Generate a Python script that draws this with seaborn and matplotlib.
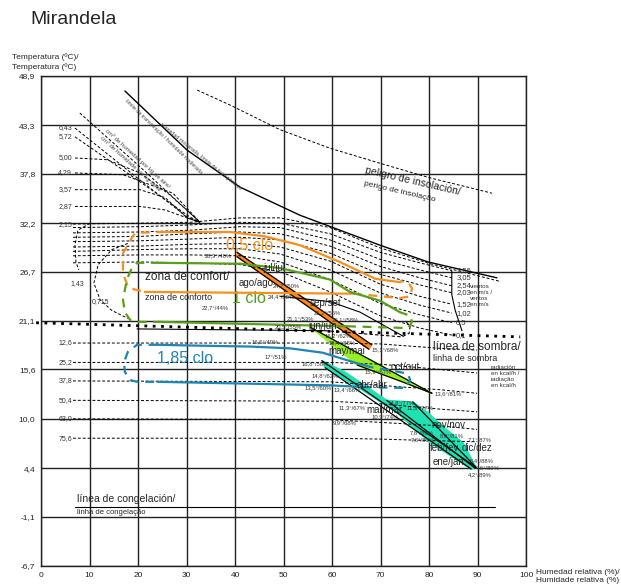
import seaborn as sns
import matplotlib.pyplot as plt

sns.set_theme(style="white")
plt.rcParams["font.family"] = ["Liberation Sans", "DejaVu Sans"]

# axes
rh_ticks = list(range(0, 101, 10))
t_ticks = [-6.7, -1.1, 4.4, 10.0, 15.6, 21.1, 26.7, 32.2, 37.8, 43.3, 48.9]
t_tick_labels = ["-6,7", "-1,1", "4,4", "10,0", "15,6", "21,1", "26,7", "32,2", "37,8", "43,3", "48,9"]

# upper limits
limit_rh = [17.3, 30.1, 41.0, 53.4, 69.9, 79.8, 94.0]
limit_t = [47.2, 40.5, 36.3, 33.1, 29.7, 27.8, 26.0]
insol_rh = [32.2, 39.0, 49.3, 59.6, 69.9, 79.8, 93.0]
insol_t = [47.3, 45.6, 42.8, 40.7, 39.0, 37.4, 35.6]

# evaporation lines (g/kg)
evap_labels = ["6,43", "5,72", "5,00", "4,29", "3,57", "2,87"]
evap_rh = [[7.0, 20.4, 30.1, 32.8], [7.0, 20.4, 30.7, 32.8], [7.0, 13.6, 20.4, 26.6, 32.8],
           [7.0, 16.9, 27.2, 32.8], [7.0, 20.4, 25.6, 30.1, 32.8], [7.0, 20.4, 25.6, 30.1, 32.8]]
evap_t = [[43.0, 37.1, 32.9, 32.3], [42.0, 36.9, 32.9, 32.3], [39.6, 39.4, 37.9, 35.4, 32.3],
          [37.9, 37.7, 35.6, 32.3], [36.0, 36.0, 35.1, 32.8, 32.3], [34.1, 34.1, 33.7, 32.8, 32.3]]
steep_rh = [8.0, 20.4, 32.8]
steep_t = [44.7, 38.6, 32.3]

# wind lines (m/s)
top_rh = [6.6, 20.4, 30.7, 41.0, 49.3, 59.6, 69.9, 80.2, 94.6]
top_t = [32.1, 32.2, 32.3, 32.8, 32.8, 31.7, 29.4, 27.6, 25.6]
wind_rh = [6.6, 20.4, 30.7, 41.0, 49.3, 59.6, 69.9, 78.1, 84.7]
wind_labels = ["3,56", "3,05", "2,54", "2,03", "1,52", "1,02", "0,5", "0,1"]
wind_t = [
    [31.7, 31.8, 32.0, 32.3, 32.2, 31.0, 28.9, 27.7, 26.8],
    [31.1, 31.2, 31.4, 31.8, 31.7, 30.3, 28.1, 26.9, 26.0],
    [30.6, 30.7, 31.0, 31.2, 31.0, 29.6, 27.3, 26.0, 25.1],
    [30.1, 30.2, 30.4, 30.6, 30.3, 28.8, 26.4, 25.2, 24.3],
    [29.5, 29.6, 29.8, 29.9, 29.5, 27.9, 25.3, 23.9, 23.0],
    [29.0, 29.2, 29.3, 29.3, 28.7, 26.9, 24.3, 22.9, 22.0],
    [28.5, 28.6, 28.6, 28.5, 27.8, 25.8, 23.1, 21.8, 20.9],
    [27.7, 27.8, 27.7, 27.5, 26.7, 24.4, 21.7, 20.3, 19.5],
]
wind_edge_rh = [84.7, 84.7, 85.4, 86.8]
wind_edge_t = [26.8, 24.1, 22.3, 20.0]
arc143_rh = [10.1, 7.6, 7.0, 7.2, 7.8]
arc143_t = [32.2, 31.4, 29.7, 27.8, 26.9]
arc0715_rh = [17.9, 14.6, 11.8, 10.9, 12.2, 14.6, 17.9]
arc0715_t = [29.9, 29.2, 27.5, 25.4, 23.5, 22.3, 21.4]

# radiation lines (kcal/h)
rad_rh = [6.6, 59.6, 69.9, 82.3, 89.9]
rad_labels = ["12,6", "25,2", "37,8", "50,4", "63,0", "75,6"]
rad_t = [
    [18.6, 18.6, 18.5, 18.0, 17.8],
    [16.4, 16.4, 16.2, 15.6, 15.2],
    [14.3, 14.2, 13.8, 13.3, 12.9],
    [12.1, 12.0, 11.7, 11.1, 10.8],
    [10.0, 9.9, 9.6, 9.2, 8.8],
    [7.8, 7.8, 7.7, 7.5, 7.4],
]

shade_rh = [-1.0, 98.8]
shade_t = [20.9, 19.3]
frost_rh = [7.0, 93.6]
frost_t = [0.0, 0.0]

# comfort zone 0,5 clo
o_top_rh = [25.6, 39.0, 46.2, 53.4, 61.6, 68.9, 74.0]
o_top_t = [31.2, 31.2, 30.7, 29.7, 27.8, 25.9, 25.5]
o_left_rh = [25.6, 19.4, 18.8, 16.9, 16.9, 18.0, 19.8, 21.4]
o_left_t = [31.2, 31.1, 30.6, 28.8, 26.5, 24.9, 24.6, 24.4]
o_bot_rh = [21.4, 64.3]
o_bot_t = [24.4, 24.2]
o_right_rh = [64.3, 74.0, 76.1, 76.5, 75.7, 74.0]
o_right_t = [24.2, 23.7, 23.9, 24.8, 25.5, 25.6]
# 1 clo
g_top_rh = [24.5, 41.0, 49.3, 59.6, 63.7, 69.9, 74.0]
g_top_t = [27.7, 27.6, 27.1, 25.8, 24.4, 23.4, 22.1]
g_left_rh = [24.5, 19.8, 18.8, 17.7, 16.9, 17.3, 18.4, 19.8, 24.5]
g_left_t = [27.7, 27.7, 27.2, 25.8, 23.5, 22.1, 21.2, 21.0, 21.0]
g_bot_rh = [24.5, 63.1]
g_bot_t = [21.0, 20.5]
g_right_rh = [63.1, 75.7, 76.5, 76.1, 74.0]
g_right_t = [20.5, 20.3, 21.0, 21.7, 22.1]
# 1,85 clo
b_top_rh = [24.0, 32.8, 43.1, 51.3, 58.1, 65.2, 67.8]
b_top_t = [18.4, 18.3, 18.2, 18.0, 17.5, 16.3, 15.9]
b_left_rh = [24.0, 19.8, 17.9, 17.1, 17.3, 18.4, 19.8, 24.0]
b_left_t = [18.4, 18.4, 17.6, 16.4, 15.3, 14.4, 14.2, 14.2]
b_bot_rh = [24.0, 59.6, 66.4]
b_bot_t = [14.2, 13.8, 13.6]
b_right_rh = [66.4, 75.1, 76.1, 75.7, 74.0, 67.8]
b_right_t = [13.6, 13.5, 14.4, 15.1, 15.3, 15.9]
# other black limits
k_low_rh = [19.8, 58.6]
k_low_t = [20.2, 20.0]
k_low_dash_rh = [58.6, 74.4, 75.9, 76.1, 75.3]
k_low_dash_t = [20.0, 19.3, 19.7, 20.5, 21.0]
k_mid_rh = [49.3, 59.6, 65.8, 74.6]
k_mid_t = [23.9, 23.3, 22.1, 19.4]

# monthly climate
summer_rh = [40.4, 68.2, 67.6, 40.4]
summer_t = [28.9, 18.4, 17.9, 28.4]
spring_rh = [55.5, 80.6, 74.0, 65.2, 59.6]
spring_t = [20.4, 12.9, 14.3, 16.1, 18.6]
winter_rh = [57.9, 62.7, 71.3, 76.7, 79.8, 82.9, 87.0, 89.7, 88.7, 80.2, 73.4, 66.4, 58.6]
winter_t = [16.6, 15.3, 12.1, 11.9, 10.7, 9.1, 7.3, 4.5, 4.3, 7.3, 10.7, 13.2, 15.8]
month_rh = [[40.4, 68.2], [40.4, 67.6], [55.5, 80.6], [65.2, 74.0, 80.6],
            [57.9, 89.7], [58.6, 88.7], [71.3, 89.5], [76.7, 89.7]]
month_t = [[28.9, 18.4], [28.4, 17.9], [20.4, 12.9], [16.1, 14.3, 12.9],
           [16.6, 4.5], [15.8, 4.3], [12.1, 4.4], [11.9, 4.5]]

month_names = ["jul/jul", "ago/ago", "sep/set", "jun/jun", "may/mai", "oct/out",
               "abr/abr", "mar/mar", "nov/nov", "feb/fev", "dic/dez", "ene/jan"]
month_name_rh = [48.0, 44.3, 58.6, 58.0, 63.1, 75.1, 68.2, 70.9, 83.9, 83.1, 89.9, 84.1]
month_name_t = [27.1, 25.4, 23.1, 20.5, 17.7, 15.9, 13.8, 11.0, 9.3, 6.7, 6.7, 5.1]

point_labels = ["28,9°/40%", "24,7°/50%", "24,4°/50%", "22,7°/44%", "21,2°/56%", "21,1°/53%",
                "20,5°/55%", "20,1°/58%", "16,2°/62%", "15,1°/68%", "16,6°/49%", "17°/51%",
                "18,4°/65%", "16,8°/58%", "14,8°/62%", "13,5°/60%", "13,4°/66%", "11,3°/67%",
                "10,9°/74%", "9,9°/68%", "14,8°/77%", "11,3°/77%", "15,9°/67%", "13,6°/81%",
                "7,8°/80%", "7,6°/80%", "8,0°/81%", "7,1°/87%", "5,4°/88%", "4,6°/89%", "4,2°/89%"]
point_rh = [36.6, 50.6, 49.6, 35.9, 59.0, 53.4, 50.9, 62.7, 61.2, 70.9, 46.2, 48.5,
            62.1, 56.5, 58.6, 57.1, 63.1, 64.1, 70.9, 62.7, 74.2, 78.1, 69.5, 83.9,
            78.4, 78.6, 84.7, 90.5, 90.9, 92.2, 90.5]
point_t = [28.5, 25.1, 23.8, 22.6, 22.0, 21.4, 20.4, 21.2, 19.4, 17.8, 18.7, 17.0,
           18.6, 16.3, 14.9, 13.5, 13.3, 11.3, 10.2, 9.6, 11.8, 11.3, 15.3, 12.8,
           8.4, 7.6, 8.1, 7.6, 5.2, 4.5, 3.7]

ORANGE = "#f7901e"
GREEN = "#58a01c"
BLUE = "#1e86b2"
DASH = (0, (3, 2))

fig = plt.figure(figsize=(6.21, 5.84), dpi=100)
ax = fig.add_axes([41 / 621, 18 / 584, 485 / 621, 490 / 584])


def curve(rh, t, color="black", lw=0.7, ls="-", **kw):
    sns.lineplot(x=rh, y=t, sort=False, estimator=None, ax=ax, color=color,
                 linewidth=lw, linestyle=ls, legend=False, **kw)


# seasonal polygons
ax.fill(summer_rh, summer_t, color="#ff8a1c", zorder=2)
ax.fill(spring_rh, spring_t, color="#98ee22", zorder=2)
ax.fill(winter_rh, winter_t, color="#1fe2b4", zorder=2)
for rh, t in zip(month_rh, month_t):
    curve(rh, t, lw=0.9, zorder=3)

curve(limit_rh, limit_t, lw=1.0)
curve(insol_rh, insol_t, ls=DASH)
for rh, t in zip(evap_rh, evap_t):
    curve(rh, t, ls=DASH)
curve(steep_rh, steep_t, ls=DASH)
curve(top_rh, top_t, ls=DASH)
for t in wind_t:
    curve(wind_rh, t, ls=DASH)
curve(wind_edge_rh, wind_edge_t, lw=0.8)
curve(arc143_rh, arc143_t, ls=DASH)
curve(arc0715_rh, arc0715_t, ls=DASH)
for t in rad_t:
    curve(rad_rh, t, ls=DASH)
curve(shade_rh, shade_t, lw=2.0, ls=(0, (1, 2)), clip_on=False)
curve(frost_rh, frost_t, lw=0.8)
curve(k_low_rh, k_low_t, lw=0.8)
curve(k_low_dash_rh, k_low_dash_t, lw=0.8, ls=DASH)
curve(k_mid_rh, k_mid_t, lw=0.8)

for c, parts in [(ORANGE, (o_top_rh, o_top_t, o_left_rh, o_left_t, o_bot_rh, o_bot_t, o_right_rh, o_right_t)),
                 (GREEN, (g_top_rh, g_top_t, g_left_rh, g_left_t, g_bot_rh, g_bot_t, g_right_rh, g_right_t)),
                 (BLUE, (b_top_rh, b_top_t, b_left_rh, b_left_t, b_bot_rh, b_bot_t, b_right_rh, b_right_t))]:
    curve(parts[0], parts[1], color=c, lw=1.6, zorder=4)
    curve(parts[2], parts[3], color=c, lw=1.6, ls=(0, (4, 3)), zorder=4)
    curve(parts[4], parts[5], color=c, lw=1.6, zorder=4)
    curve(parts[6], parts[7], color=c, lw=1.6, ls=(0, (4, 3)), zorder=4)

# axes & grid
ax.set_xlim(0, 100)
ax.set_ylim(-6.7, 48.9)
ax.set_xticks(rh_ticks)
ax.set_yticks(t_ticks)
ax.set_yticklabels(t_tick_labels)
ax.set_xlabel("")
ax.set_ylabel("")
ax.grid(True, color="#222222", linewidth=1.0)
ax.set_axisbelow(True)
ax.tick_params(length=0, labelsize=6, pad=4, colors="#222222")
for s in ax.spines.values():
    s.set_color("#222222")
    s.set_linewidth(1.0)

# labels on lines
for lab, t in zip(evap_labels, evap_t):
    ax.text(6.4, t[0], lab, fontsize=5, ha="right", va="center", color="#333333")
ax.text(6.4, top_t[0], "2,15", fontsize=5, ha="right", va="center", color="#333333")
for lab, t in zip(wind_labels, wind_t):
    ax.text(85.6, t[-1], lab, fontsize=5.5, ha="left", va="center", color="#333333")
for lab, t in zip(rad_labels, rad_t):
    ax.text(6.4, t[0], lab, fontsize=5, ha="right", va="center", color="#333333")
ax.text(7.4, 25.4, "1,43", fontsize=5, ha="center", va="center", color="#333333")
ax.text(12.2, 23.3, "0,715", fontsize=5, ha="center", va="center", color="#333333")
ax.text(88.5, 24.0, "vientos\nen m/s /\nventos\nen m/s", fontsize=4.5, ha="left", va="center",
        linespacing=1.3, color="#333333")
ax.text(92.7, 14.8, "radiación\nen kcal/h /\nradiação\nen kcal/h", fontsize=4.5, ha="left",
        va="center", linespacing=1.3, color="#333333")

ax.text(21.4, 26.1, "zona de confort/", fontsize=8.5, ha="left", va="center")
ax.text(21.4, 23.8, "zona de conforto", fontsize=6.5, ha="left", va="center")
ax.text(43.1, 29.7, "0,5 clo", fontsize=11.5, color=ORANGE, ha="center", va="center")
ax.text(42.9, 23.6, "1 clo", fontsize=11.5, color=GREEN, ha="center", va="center")
ax.text(29.7, 16.9, "1,85 clo", fontsize=11.5, color=BLUE, ha="center", va="center")
ax.text(80.8, 18.1, "línea de sombra/", fontsize=8.5, ha="left", va="center")
ax.text(80.8, 16.8, "linha de sombra", fontsize=6.5, ha="left", va="center")
ax.text(76.7, 37.0, "peligro de insolación/", fontsize=7.5, ha="center", va="center", rotation=-13)
ax.text(74.0, 35.8, "perigo de insolação", fontsize=6, ha="center", va="center", rotation=-13)
ax.text(7.4, 0.3, "línea de congelación/", fontsize=7.5, ha="left", va="bottom")
ax.text(7.4, -0.2, "linha de congelação", fontsize=5.5, ha="left", va="top")
ax.text(19.8, 39.5, "cm³ de humedad por kg de aire/", fontsize=4.3, ha="center", va="center",
        rotation=-42, color="#444444")
ax.text(18.4, 38.9, "cm³ de humidade por kg de ar", fontsize=4.3, ha="center", va="center",
        rotation=-42, color="#444444")
ax.text(33.0, 39.8, "humedad moderada, límite de transpiración", fontsize=3.8, ha="center",
        va="center", rotation=-39, color="#444444")
ax.text(25.2, 42.0, "límite de transpiração / humidade moderada", fontsize=3.8, ha="center",
        va="center", rotation=-44, color="#444444")

for lab, rh, t in zip(month_names, month_name_rh, month_name_t):
    ax.text(rh, t, lab, fontsize=7, ha="center", va="center", zorder=5)
for lab, rh, t in zip(point_labels, point_rh, point_t):
    ax.text(rh, t, lab, fontsize=4.2, ha="center", va="center", color="#333333", zorder=5)

fig.text(30 / 621, 1 - 19 / 584, "Mirandela", fontsize=14, ha="left", va="center")
fig.text(12 / 621, 1 - 57 / 584, "Temperatura (ºC)/", fontsize=6, ha="left", va="center")
fig.text(12 / 621, 1 - 67 / 584, "Temperatura (ºC)", fontsize=6, ha="left", va="center")
fig.text(536 / 621, 1 - 572 / 584, "Humedad relativa (%)/", fontsize=6, ha="left", va="center")
fig.text(536 / 621, 1 - 581 / 584, "Humidade relativa (%)", fontsize=6, ha="left", va="center")

fig.savefig("out.png", dpi=100)
